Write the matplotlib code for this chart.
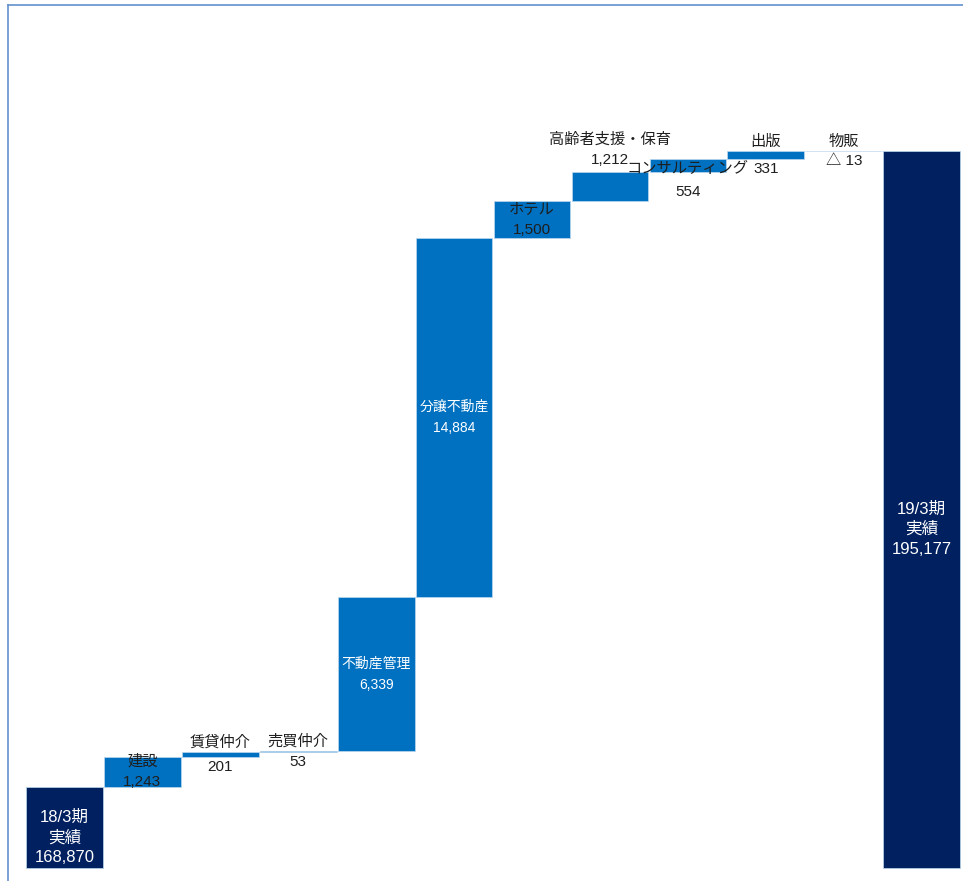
import numpy as np
import matplotlib.pyplot as plt

plt.rcParams['font.family'] = ['Liberation Sans', 'Noto Sans CJK JP']

# 売上高の増減（百万円）
categories = ['18/3期\n実績', '建設', '賃貸仲介', '売買仲介', '不動産管理', '分譲不動産',
              'ホテル', '高齢者支援・保育', 'コンサルティング', '出版', '物販', '19/3期\n実績']
start_value = 168870
changes = [1243, 201, 53, 6339, 14884, 1500, 1212, 554, 331, -13]
end_value = 195177

NAVY = '#002060'
BLUE = '#0070C0'
FRAME = '#6490CE'
TEXT = '#1e1e1e'
FLOOR = 165500

# where each label goes relative to its bar
placement = ['total', 'inside_dark', 'straddle', 'straddle', 'inside_light', 'inside_light',
             'inside_dark', 'above', 'below', 'straddle', 'straddle', 'total']
total_shift = {0: -7.5, 11: -14.0}


def fmt(v):
  if v < 0:
    return '△ {:,}'.format(-v)
  return '{:,}'.format(v)


levels = start_value + np.cumsum(changes)
prev = np.concatenate([[start_value], levels[:-1]])
bottoms = np.concatenate([[FLOOR], np.minimum(prev, levels), [FLOOR]])
heights = np.concatenate([[start_value - FLOOR], np.abs(changes), [end_value - FLOOR]])
colors = [NAVY] + [BLUE] * len(changes) + [NAVY]
values = [start_value] + changes + [end_value]

fig = plt.figure(figsize=(9.63, 8.81), dpi=100)
ax = fig.add_axes([8.3 / 963, 0, 1 - 8.3 / 963, 876 / 881])
x = np.arange(len(categories))
ax.bar(x, heights, bottom=bottoms, width=0.985, color=colors,
       edgecolor='#BDD7EE', linewidth=0.5)

ax.set_xlim(-0.72, 11.53)
ax.set_ylim(164968, 201218)
ax.set_xticks([])
ax.set_yticks([])
for side in ['right', 'bottom']:
  ax.spines[side].set_visible(False)
for side in ['left', 'top']:
  ax.spines[side].set_color(FRAME)
  ax.spines[side].set_linewidth(1.2)

for i, (name, val, place) in enumerate(zip(categories, values, placement)):
  top = bottoms[i] + heights[i]
  bot = bottoms[i]
  mid = (top + bot) / 2
  if place == 'total':
    ax.annotate(name + '\n' + fmt(val), (i, mid), xytext=(0, total_shift[i]),
                textcoords='offset points', ha='center', va='center',
                color='white', fontsize=12, linespacing=1.4)
  elif place == 'inside_light':
    ax.annotate(name + '\n' + fmt(val), (i, mid), ha='center', va='center',
                color='white', fontsize=10, linespacing=1.65)
  elif place == 'inside_dark':
    ax.annotate(name + '\n' + fmt(val), (i, mid), ha='center', va='center',
                color=TEXT, fontsize=11, linespacing=1.55)
  elif place == 'straddle':
    ax.annotate(name, (i, top), xytext=(0, 6.5), textcoords='offset points',
                ha='center', va='center', color=TEXT, fontsize=11)
    ax.annotate(fmt(val), (i, bot), xytext=(0, -7.5), textcoords='offset points',
                ha='center', va='center', color=TEXT, fontsize=11)
  elif place == 'above':
    ax.annotate(name, (i, top), xytext=(0, 23.5), textcoords='offset points',
                ha='center', va='center', color=TEXT, fontsize=11)
    ax.annotate(fmt(val), (i, top), xytext=(0, 8.5), textcoords='offset points',
                ha='center', va='center', color=TEXT, fontsize=11)
  elif place == 'below':
    ax.annotate(name, (i, bot), xytext=(0, 2.5), textcoords='offset points',
                ha='center', va='center', color=TEXT, fontsize=11)
    ax.annotate(fmt(val), (i, bot), xytext=(0, -14.5), textcoords='offset points',
                ha='center', va='center', color=TEXT, fontsize=11)

fig.savefig('out.png', dpi=100)
